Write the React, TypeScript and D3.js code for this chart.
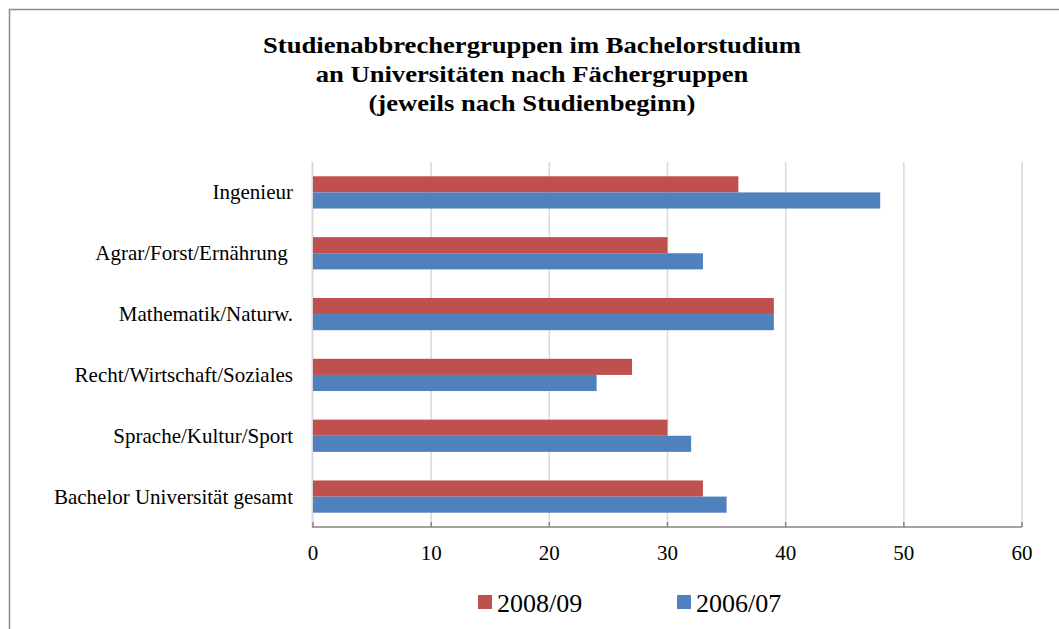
import React from "react";
import * as d3 from "d3";

const categories = [
  "Ingenieur",
  "Agrar/Forst/Ernährung ",
  "Mathematik/Naturw.",
  "Recht/Wirtschaft/Soziales",
  "Sprache/Kultur/Sport",
  "Bachelor Universität gesamt",
];
const series2008 = [36, 30, 39, 27, 30, 33];
const series2006 = [48, 33, 39, 24, 32, 35];
const seriesNames = ["2008/09", "2006/07"];
const seriesColors = ["#C0504D", "#4F81BD"];
const xTicks = [0, 10, 20, 30, 40, 50, 60];
const titleLines = [
  "Studienabbrechergruppen im Bachelorstudium",
  "an Universitäten nach Fächergruppen",
  "(jeweils nach Studienbeginn)",
];

const W = 1059;
const H = 629;
const plot = { left: 313, right: 1022, top: 162, bottom: 527 };
const font = "'Liberation Serif', 'Times New Roman', serif";

export default function App() {
  const x = d3.scaleLinear().domain([0, 60]).range([plot.left, plot.right]);
  const y = d3
    .scaleBand<string>()
    .domain(categories)
    .range([plot.top, plot.bottom])
    .paddingInner(0.47)
    .paddingOuter(0.235);
  const sub = d3
    .scaleBand<string>()
    .domain(seriesNames)
    .range([0, y.bandwidth()]);
  const data = [series2008, series2006];

  return (
    <svg
      width={W}
      height={H}
      style={{ position: "absolute", left: 0, top: 0, background: "#fff" }}
    >
      <rect x={0} y={0} width={W} height={H} fill="#fff" />
      <path
        d={`M9.5,${H} L9.5,9.5 L${W},9.5`}
        fill="none"
        stroke="#8c8c8c"
        strokeWidth={1.5}
      />
      {titleLines.map((t, i) => (
        <text
          key={i}
          transform={`translate(532,${53 + i * 29}) scale(1.11,1)`}
          textAnchor="middle"
          fontFamily={font}
          fontWeight="bold"
          fontSize={24}
          fill="#000"
        >
          {t}
        </text>
      ))}
      {xTicks.slice(1).map((t) => (
        <line
          key={t}
          x1={x(t)}
          x2={x(t)}
          y1={plot.top}
          y2={plot.bottom}
          stroke="#d9d9d9"
          strokeWidth={1.5}
        />
      ))}
      <line
        x1={plot.left - 0.5}
        x2={plot.left - 0.5}
        y1={plot.top}
        y2={plot.bottom}
        stroke="#d9d9d9"
        strokeWidth={2}
      />
      {categories.map((c, i) =>
        data.map((s, j) => (
          <rect
            key={c + j}
            x={x(0)}
            y={(y(c) as number) + (sub(seriesNames[j]) as number)}
            width={x(s[i]) - x(0)}
            height={sub.bandwidth()}
            fill={seriesColors[j]}
          />
        ))
      )}
      <line
        x1={plot.left - 1}
        x2={plot.right}
        y1={plot.bottom}
        y2={plot.bottom}
        stroke="#868686"
        strokeWidth={1.5}
      />
      {xTicks.map((t) => (
        <g key={t}>
          <line
            x1={x(t)}
            x2={x(t)}
            y1={plot.bottom}
            y2={plot.bottom - 5}
            stroke="#868686"
            strokeWidth={1.5}
          />
          <text
            x={x(t)}
            y={560}
            textAnchor="middle"
            fontFamily={font}
            fontSize={21}
            fill="#000"
          >
            {t}
          </text>
        </g>
      ))}
      {categories.map((c) => (
        <text
          key={c}
          x={293}
          y={(y(c) as number) + y.bandwidth() / 2 + 7}
          textAnchor="end"
          fontFamily={font}
          fontSize={21}
          fill="#000"
          style={{ whiteSpace: "pre" }}
        >
          {c}
        </text>
      ))}
      {seriesNames.map((n, j) => (
        <g key={n} transform={`translate(${478 + j * 199},0)`}>
          <rect x={0} y={595} width={14} height={14} fill={seriesColors[j]} />
          <text
            x={19}
            y={612}
            fontFamily={font}
            fontSize={26}
            fill="#000"
          >
            {n}
          </text>
        </g>
      ))}
    </svg>
  );
}
